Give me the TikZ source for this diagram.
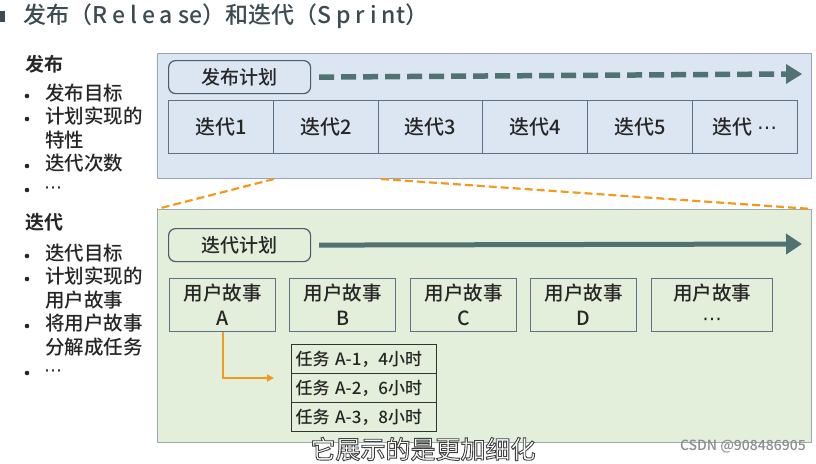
\documentclass[tikz,border=0pt]{standalone}
\usepackage{fontspec}
\setmainfont{Noto Sans CJK SC}[UprightFont=* Medium, BoldFont=* Bold]
\newfontfamily\dotsfont{DejaVu Sans}
\newcommand{\mydots}{{\dotsfont ⋯}}
\usetikzlibrary{arrows.meta}
\definecolor{titlecol}{HTML}{3C4B52}
\definecolor{txt}{HTML}{262626}
\definecolor{bluefill}{HTML}{DCE6F2}
\definecolor{blueline}{HTML}{93A6BE}
\definecolor{greenfill}{HTML}{E3EFDA}
\definecolor{greenline}{HTML}{9CA9B2}
\definecolor{plancol}{HTML}{4F7373}
\definecolor{cellline}{HTML}{5F7189}
\definecolor{orangecol}{HTML}{F39A1C}
\tikzset{
  container/.style={draw, line width=1.2pt, anchor=north west, inner sep=0pt},
  planbox/.style={draw=cellline!80!black, line width=1.2pt, rounded corners=7pt, minimum width=142pt, minimum height=33pt, anchor=north west, inner sep=0pt, font=\fontsize{19}{22}\selectfont, text=txt},
  cell/.style={draw=cellline, line width=1pt, minimum height=53pt, anchor=north west, inner sep=0pt, font=\fontsize{20}{22}\selectfont, text=txt},
  story/.style={draw=cellline, line width=1pt, fill=greenfill, minimum height=53pt, anchor=north west, inner sep=0pt, align=center, font=\fontsize{19.5}{25}\selectfont, text=txt},
  task/.style={draw=black!80, line width=1pt, minimum width=145pt, minimum height=29pt, text width=137pt, align=left, anchor=north west, inner sep=0pt, font=\fontsize{17}{19}\selectfont, text=txt},
  head/.style={anchor=west, font=\fontsize{19}{21}\selectfont\bfseries, text=txt, inner sep=0pt},
  item/.style={anchor=north west, align=left, font=\fontsize{19.5}{23.5}\selectfont, text=txt, inner sep=0pt},
  bul/.style={circle, fill=txt, minimum size=4.6pt, inner sep=0pt},
  zoomline/.style={draw=orangecol, line width=2.2pt, dash pattern=on 8pt off 4pt},
}
\begin{document}
\begin{tikzpicture}[x=1pt,y=-1pt]
\useasboundingbox (0,0) rectangle (816,463);
% title
\fill[titlecol] (0,11) rectangle (5,22);
\node[anchor=west, inner sep=0pt, text=titlecol, font=\fontsize{23}{26}\selectfont] (title) at (23,16) {发布（{\addfontfeatures{LetterSpace=22}Releas}e）和迭代（{\addfontfeatures{LetterSpace=22}Sprin}t）};
% left column
\node[head] (h1) at (25,64) {发布};
\foreach \y/\n in {96/a, 119/b, 166/c, 190/d}{
  \node[bul] (b1\n) at (27,\y) {};
}
\node[item] (t1a) at (45,84) {发布目标};
\node[item] (t1b) at (45,107) {计划实现的\\特性};
\node[item] (t1c) at (45,154) {迭代次数};
\node[item, anchor=west, font=\fontsize{18}{20}\selectfont] (t1d) at (44,190) {\mydots};
\node[head] (h2) at (25,222) {迭代};
\foreach \y/\n in {256/a, 279/b, 326/c, 373/d}{
  \node[bul] (b2\n) at (27,\y) {};
}
\node[item] (t2a) at (45,244) {迭代目标};
\node[item] (t2b) at (45,267) {计划实现的\\用户故事};
\node[item] (t2c) at (45,314) {将用户故事\\分解成任务};
\node[item, anchor=west, font=\fontsize{18}{20}\selectfont] (t2d) at (44,373) {\mydots};
% release container
\node[container, draw=blueline, fill=bluefill, minimum width=654pt, minimum height=125pt] (rel) at (157,53) {};
\node[planbox, fill=bluefill] (relplan) at (168,60) {发布计划};
\coordinate (relend) at (786,74);
\draw[plancol, line width=5.5pt, dash pattern=on 15pt off 7pt] ([xshift=8pt]relplan.east) -- (relend);
\fill[plancol] (786,64) -- (802,74) -- (786,84) -- cycle;
\foreach \i/\t in {1/迭代1,2/迭代2,3/迭代3,4/迭代4,5/迭代5,6/{迭代 \mydots}}{
  \node[cell, minimum width=104.8pt] (c\i) at ({168+(\i-1)*104.8},100) {\t};
}
% iteration container
\node[container, draw=greenline, fill=greenfill, minimum width=654pt, minimum height=233pt] (itr) at (157,209) {};
\coordinate (z1) at (274,179);
\coordinate (z2) at (381,179);
\draw[zoomline] (z1) -- (itr.north west);
\draw[zoomline] (z2) -- (itr.north east);
\node[planbox, fill=greenfill] (itrplan) at (168,228) {迭代计划};
\coordinate (itrend) at (802,244);
\draw[plancol, line width=5pt, -{Triangle[length=16pt,width=20pt]}] ([xshift=8pt]itrplan.east) -- (itrend);
\node[story, minimum width=106pt] (sA) at (169,278) {用户故事\\A};
\node[story, minimum width=106pt] (sB) at (289,278) {用户故事\\B};
\node[story, minimum width=106pt] (sC) at (410,278) {用户故事\\C};
\node[story, minimum width=106pt] (sD) at (530,278) {用户故事\\D};
\node[story, minimum width=121pt] (sE) at (651,278) {用户故事\\\mydots};
\node[task] (k1) at (291,344) {任务 A-1，4小时};
\node[task] (k2) at (291,373) {任务 A-2，6小时};
\node[task] (k3) at (291,402) {任务 A-3，8小时};
\coordinate (karrow) at (274,378);
\draw[orangecol, line width=2pt, -{Triangle[length=7pt,width=7pt]}] (sA.south) |- (karrow);
% overlay texts
\node[inner sep=0pt, font=\fontsize{25}{28}\selectfont, text=white] (sub) at (423,449) {\special{pdf:literal direct 0.25 0.25 0.25 RG 2 Tr 0.9 w}它展示的是更加细化\special{pdf:literal direct 0 Tr}};
\node[anchor=east, inner sep=0pt, font=\fontsize{14}{16}\selectfont, text=black!45] (wm) at (806,447) {CSDN @908486905};
\end{tikzpicture}
\end{document}
